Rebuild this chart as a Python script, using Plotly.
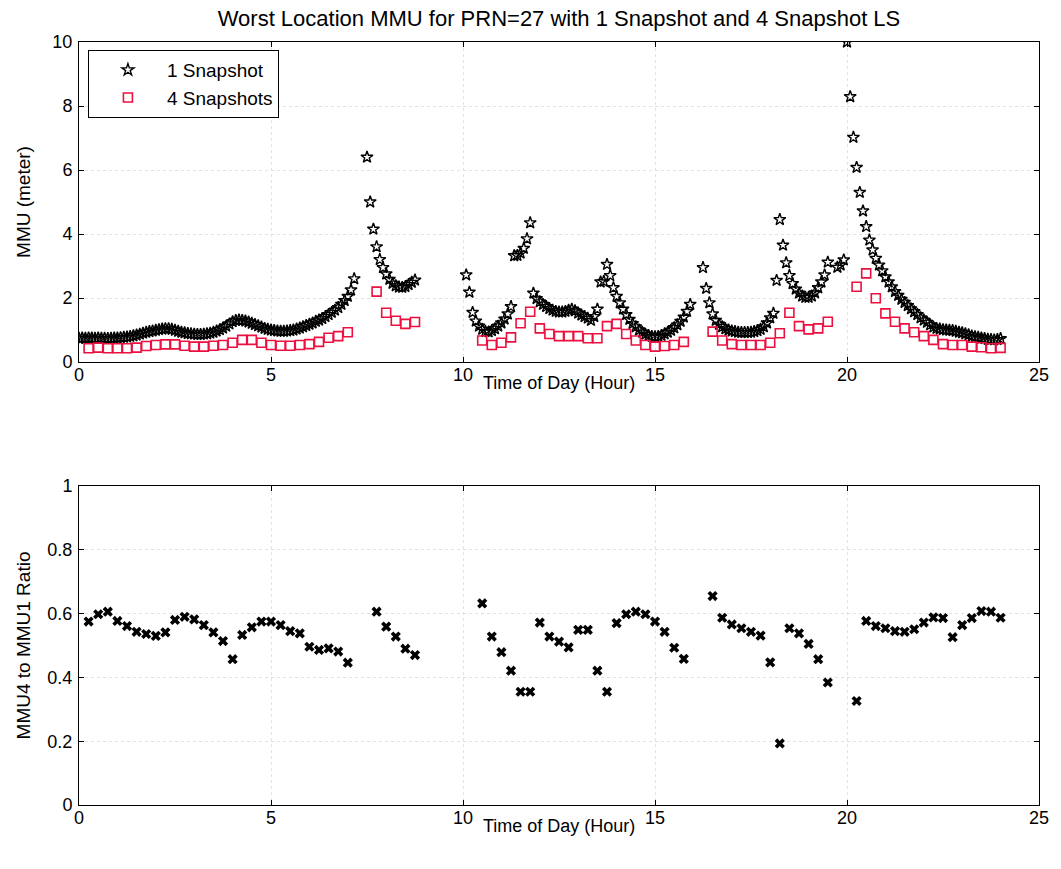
import plotly.graph_objects as go

# ---------------- data ----------------
STEP1 = 1.0 / 12.0   # 1-snapshot solutions every 5 minutes
STEP4 = 0.25         # 4-snapshot solutions / ratio every 15 minutes

# 1-snapshot MMU (meter), contiguous segments
snap1_seg_start = [0.0, 7.5, 10.0833333, 16.25, 19.75]
snap1_seg_a = [0.74, 0.75, 0.74, 0.75, 0.75, 0.74, 0.75, 0.74, 0.74, 0.73, 0.74, 0.75,
               0.75, 0.76, 0.77, 0.78, 0.80, 0.82, 0.84, 0.87, 0.90, 0.93, 0.95, 0.97,
               0.99, 1.01, 1.03, 1.04, 1.04, 1.02, 0.99, 0.96, 0.93, 0.91, 0.89, 0.88,
               0.87, 0.86, 0.86, 0.87, 0.88, 0.90, 0.93, 0.97, 1.01, 1.06, 1.12, 1.19,
               1.26, 1.30, 1.31, 1.30, 1.28, 1.25, 1.21, 1.17, 1.13, 1.09, 1.05, 1.02,
               1.00, 0.98, 0.97, 0.96, 0.96, 0.97, 0.98, 1.00, 1.03, 1.06, 1.10, 1.14,
               1.18, 1.22, 1.27, 1.31, 1.36, 1.42, 1.48, 1.55, 1.62, 1.70, 1.80, 1.92,
               2.05, 2.25, 2.60]
snap1_seg_b = [6.40, 5.00, 4.15, 3.60, 3.20, 2.95, 2.75, 2.58, 2.46, 2.38, 2.34, 2.33,
               2.36, 2.42, 2.49, 2.56]
snap1_seg_c = [2.72, 2.18, 1.55, 1.28, 1.12, 1.02, 0.95, 0.94, 0.98, 1.04, 1.12, 1.22,
               1.34, 1.50, 1.73, 3.32, 3.33, 3.40, 3.55, 3.85, 4.35, 2.15, 1.98, 1.88,
               1.80, 1.73, 1.67, 1.62, 1.58, 1.56, 1.56, 1.58, 1.62, 1.65, 1.60, 1.53,
               1.47, 1.42, 1.37, 1.30, 1.42, 1.65, 2.50, 2.52, 3.05, 2.70, 2.32, 2.05,
               1.85, 1.65, 1.48, 1.33, 1.20, 1.10, 1.00, 0.93, 0.87, 0.83, 0.80, 0.79,
               0.80, 0.83, 0.88, 0.93, 0.99, 1.07, 1.16, 1.27, 1.40, 1.58, 1.80]
snap1_seg_d = [2.95, 2.30, 1.85, 1.50, 1.30, 1.18, 1.10, 1.04, 1.00, 0.97, 0.95, 0.93,
               0.92, 0.92, 0.92, 0.93, 0.95, 0.98, 1.02, 1.10, 1.22, 1.38, 1.52, 2.55,
               4.45, 3.65, 3.10, 2.70, 2.45, 2.28, 2.15, 2.06, 2.02, 2.02, 2.06, 2.16,
               2.32, 2.50, 2.72, 3.12]
snap1_seg_e = [2.96, 3.03, 3.19, 10.0, 8.29, 7.02, 6.08, 5.30, 4.72, 4.23, 3.81, 3.50,
               3.24, 3.03, 2.85, 2.66, 2.50, 2.35, 2.20, 2.08, 1.96, 1.86, 1.76, 1.66,
               1.57, 1.48, 1.38, 1.31, 1.24, 1.16, 1.09, 1.05, 1.03, 1.01, 1.00, 0.99,
               0.98, 0.96, 0.93, 0.91, 0.88, 0.85, 0.81, 0.79, 0.77, 0.75, 0.73, 0.71,
               0.70, 0.69, 0.70, 0.73]

# 4-snapshot MMU (meter) and MMU4/MMU1 ratio, same epochs
snap4_seg_start = [0.25, 7.75, 10.5, 16.5, 20.25]
snap4_seg_a = [0.43, 0.45, 0.43, 0.43, 0.43, 0.45, 0.50, 0.53, 0.55, 0.55, 0.51, 0.48,
               0.48, 0.51, 0.53, 0.60, 0.69, 0.69, 0.60, 0.53, 0.51, 0.51, 0.53, 0.56,
               0.63, 0.76, 0.81, 0.93]
snap4_seg_b = [2.20, 1.54, 1.29, 1.19, 1.25]
snap4_seg_c = [0.67, 0.53, 0.60, 0.77, 1.21, 1.57, 1.05, 0.875, 0.81, 0.81, 0.81, 0.74,
               0.74, 1.12, 1.19, 0.875, 0.67, 0.53, 0.48, 0.50, 0.53, 0.63]
snap4_seg_d = [0.95, 0.67, 0.56, 0.53, 0.53, 0.53, 0.60, 0.90, 1.54, 1.12, 1.02, 1.05, 1.26]
snap4_seg_e = [2.35, 2.77, 1.99, 1.52, 1.26, 1.05, 0.93, 0.81, 0.69, 0.56, 0.53, 0.53,
               0.48, 0.46, 0.43, 0.44]

ratio_seg_a = [0.575, 0.598, 0.606, 0.577, 0.561, 0.543, 0.536, 0.530, 0.541, 0.580,
               0.590, 0.582, 0.564, 0.541, 0.514, 0.457, 0.533, 0.557, 0.575, 0.575,
               0.564, 0.545, 0.538, 0.496, 0.486, 0.491, 0.481, 0.446]
ratio_seg_b = [0.606, 0.559, 0.528, 0.490, 0.470]
ratio_seg_c = [0.632, 0.528, 0.479, 0.421, 0.355, 0.355, 0.572, 0.528, 0.512, 0.494,
               0.549, 0.549, 0.421, 0.355, 0.570, 0.598, 0.606, 0.598, 0.575, 0.543,
               0.493, 0.458]
ratio_seg_d = [0.655, 0.587, 0.566, 0.554, 0.543, 0.531, 0.447, 0.193, 0.554, 0.538,
               0.505, 0.457, 0.384]
ratio_seg_e = [0.326, 0.577, 0.561, 0.554, 0.545, 0.543, 0.551, 0.572, 0.588, 0.586,
               0.526, 0.564, 0.586, 0.608, 0.606, 0.587]

x_ticks = [0, 5, 10, 15, 20, 25]
y1_ticks = [0, 2, 4, 6, 8, 10]
y2_ticks = [0, 0.2, 0.4, 0.6, 0.8, 1]
y2_labels = ["0", "0.2", "0.4", "0.6", "0.8", "1"]

title_text = "Worst Location MMU for PRN=27 with 1 Snapshot and 4 Snapshot LS"
x_title = "Time of Day (Hour)"
y1_title = "MMU (meter)"
y2_title = "MMU4 to MMU1 Ratio"


def build(starts, segs, step):
    t, v = [], []
    for s, seg in zip(starts, segs):
        for i, val in enumerate(seg):
            t.append(s + i * step)
            v.append(val)
    return t, v


t1, mmu1 = build(snap1_seg_start, [snap1_seg_a, snap1_seg_b, snap1_seg_c, snap1_seg_d, snap1_seg_e], STEP1)
t4, mmu4 = build(snap4_seg_start, [snap4_seg_a, snap4_seg_b, snap4_seg_c, snap4_seg_d, snap4_seg_e], STEP4)
tr, ratio = build(snap4_seg_start, [ratio_seg_a, ratio_seg_b, ratio_seg_c, ratio_seg_d, ratio_seg_e], STEP4)

FONT = "Liberation Sans, Arial, sans-serif"
RED = "#ec1040"
TOP_DOM = [0.5806, 1.0]
BOT_DOM = [0.0, 0.4181]

fig = go.Figure()
fig.add_trace(go.Scatter(
    x=t1, y=mmu1, mode="markers", name="1 Snapshot", legendgroup="a",
    marker=dict(symbol="star-open", size=9, color="black", line=dict(width=1.4, color="black")),
    xaxis="x", yaxis="y"))
fig.add_trace(go.Scatter(
    x=t4, y=mmu4, mode="markers", name="4 Snapshots", legendgroup="b",
    marker=dict(symbol="square-open", size=9, color=RED, line=dict(width=1.6, color=RED)),
    xaxis="x", yaxis="y"))
fig.add_trace(go.Scatter(
    x=tr, y=ratio, mode="markers", showlegend=False,
    marker=dict(symbol="x", size=9, color="black", line=dict(width=0)),
    xaxis="x2", yaxis="y2"))

axis_common = dict(
    showline=True, linecolor="black", linewidth=1, mirror="ticks",
    ticks="inside", ticklen=5, tickcolor="black",
    showgrid=True, gridcolor="#e2e2e2", griddash="dot", gridwidth=1,
    zeroline=False, tickfont=dict(family=FONT, size=18, color="black"),
)

fig.update_layout(
    width=1061, height=869,
    margin=dict(l=79, r=16, t=42, b=64),
    paper_bgcolor="white", plot_bgcolor="white",
    font=dict(family=FONT, size=18, color="black"),
    title=dict(text=title_text, x=0.5, xref="paper", y=1 - 18 / 869, yref="container",
               xanchor="center", yanchor="middle", font=dict(family=FONT, size=22, color="black")),
    xaxis=dict(axis_common, range=[0, 25], tickvals=x_ticks, domain=[0, 1], anchor="y",
               ticklabelstandoff=-4),
    yaxis=dict(axis_common, range=[0, 10], tickvals=y1_ticks, domain=TOP_DOM, anchor="x",
               ticklabelstandoff=2,
               title=dict(text=y1_title, standoff=16, font=dict(size=19))),
    xaxis2=dict(axis_common, range=[0, 25], tickvals=x_ticks, domain=[0, 1], anchor="y2",
                ticklabelstandoff=-4),
    yaxis2=dict(axis_common, range=[0, 1], tickvals=y2_ticks, ticktext=y2_labels,
                domain=BOT_DOM, anchor="x2", ticklabelstandoff=2,
                title=dict(text=y2_title, standoff=11, font=dict(size=19))),
    legend=dict(x=0.0093, y=0.9895, xanchor="left", yanchor="top", bgcolor="white",
                bordercolor="black", borderwidth=1, font=dict(family=FONT, size=19),
                traceorder="grouped", tracegroupgap=0, itemwidth=68),
    showlegend=True,
)

# x-axis titles placed just under the tick labels, as in the reference
for ypos in [TOP_DOM[0], BOT_DOM[0]]:
    fig.add_annotation(text=x_title, xref="paper", yref="paper", x=0.5, y=ypos,
                       yshift=-21, xanchor="center", yanchor="middle", showarrow=False,
                       font=dict(family=FONT, size=18, color="black"))

fig.write_html("out.html")
